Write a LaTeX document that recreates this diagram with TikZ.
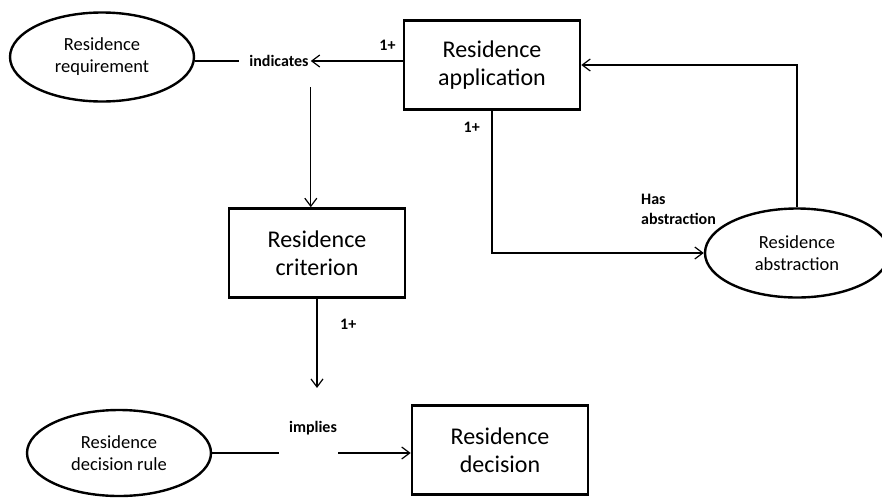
\documentclass[tikz,border=0pt]{standalone}
\usepackage{fontspec}
\setmainfont{Carlito}
\usetikzlibrary{positioning,shapes.geometric,arrows.meta}

\begin{document}
\begin{tikzpicture}[x=1pt, y=-1pt,
        entityBox/.style = {rectangle, draw, line width = 2.6pt, minimum width = 176pt, minimum height = 89pt, align = center, font = \fontsize{24}{28}\selectfont},
        conceptOval/.style = {ellipse, draw, line width = 2.4pt, minimum width = 184pt, minimum height = 89pt, inner sep = 0pt, align = center, font = \fontsize{18.5}{22}\selectfont},
        relLabel/.style = {font = \bfseries\fontsize{16}{20}\selectfont, inner sep = 2pt, align = left},
        link/.style = {line width = 1.2pt},
        >={Straight Barb[length=8pt, width=12pt]}]
        \useasboundingbox (0,0) rectangle (882,498);

        \node[entityBox] (application) at (492,65) {Residence\\application};
        \node[entityBox] (criterion) at (317,253) {Residence\\criterion};
        \node[entityBox] (decision) at (500,450) {Residence\\decision};
        \node[conceptOval] (requirement) at (102,57) {Residence\\requirement};
        \node[conceptOval] (abstraction) at (797,253) {Residence\\abstraction};
        \node[conceptOval, minimum height = 86pt] (decisionRule) at (119,453) {Residence\\decision rule};

        \node[relLabel] (indicates) at (279,61) {indicates};
        \node[relLabel] (implies) at (313,428) {implies};
        \node[relLabel, anchor = west] (hasAbstraction) at (639,209) {Has\\abstraction};
        \node[relLabel] (applicationCount) [above left = 12pt and 5pt of application.west] {1+};
        \node[relLabel] (abstractionCount) [below left = 9pt and 10pt of application.south] {1+};
        \node[relLabel] (criterionCount) [below right = 18pt and 21pt of criterion.south] {1+};

        \draw[link] (requirement.east |- indicates) -- ([xshift=-8pt]indicates.west);
        \draw[link, ->] (application.west |- indicates) -- (indicates.east);
        \draw[link, ->] ([yshift=-26pt]indicates.east) -- (indicates.east |- criterion.north);
        \draw[link, ->, shorten >= 31pt] (criterion.south) -- (criterion.south |- implies.north);
        \draw[link] (decisionRule.east) -- ([xshift=-8pt]implies.west |- decisionRule.east);
        \draw[link, ->] ([xshift=-1pt]implies.east |- decisionRule.east) -- (decision.west |- decisionRule.east);
        \draw[link, ->] (application.south) |- (abstraction.west);
        \draw[link, ->] (abstraction.north) |- (application.east);
\end{tikzpicture}
\end{document}
